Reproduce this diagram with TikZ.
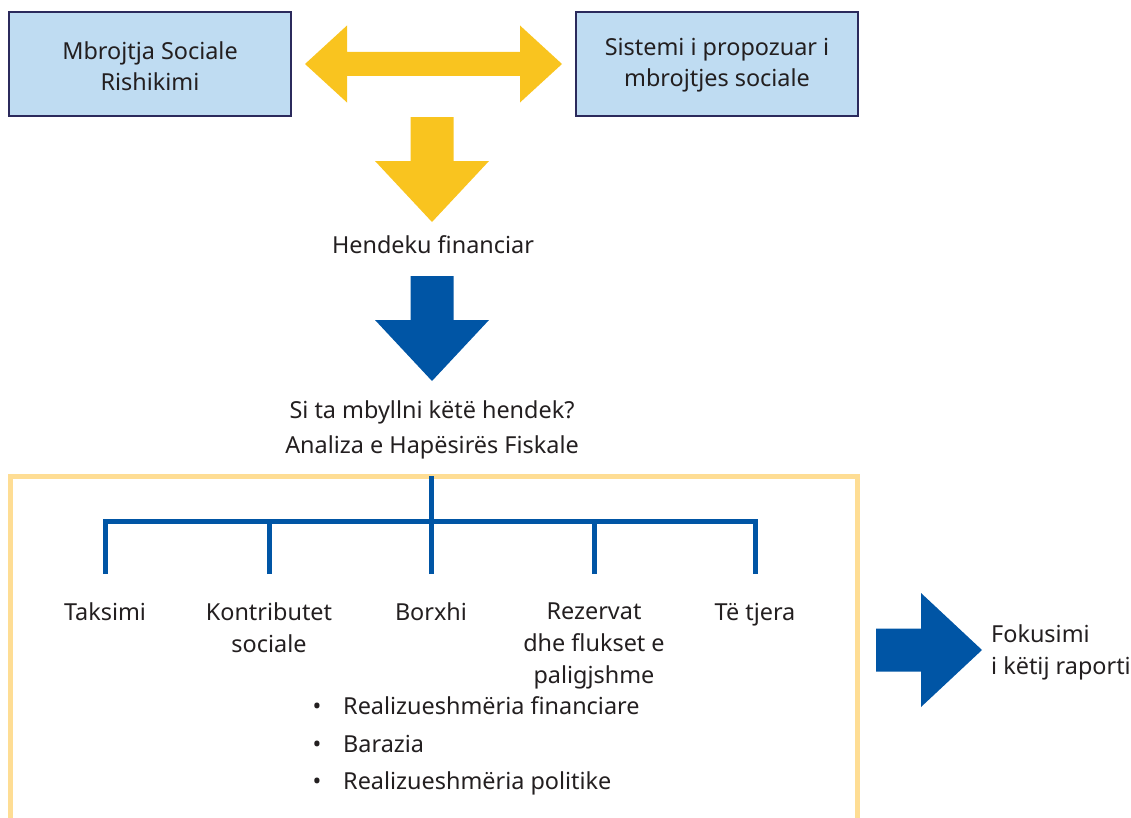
\documentclass[tikz,border=0pt]{standalone}
\usepackage{fontspec}
\setmainfont{Noto Sans}
\usetikzlibrary{calc}

\definecolor{boxfill}{HTML}{BFDCF2}
\definecolor{boxline}{HTML}{2B2A5C}
\definecolor{gold}{HTML}{F9C41F}
\definecolor{navy}{HTML}{0055A5}
\definecolor{framecol}{HTML}{FEDD94}
\definecolor{ink}{HTML}{231F20}

\begin{document}
\begin{tikzpicture}[x=1bp, y=-1bp,
    every node/.style={font=\fontsize{23.5}{32}\selectfont, inner sep=0pt, text=ink},
    box/.style={draw=boxline, line width=2.5bp, fill=boxfill, minimum width=282bp, minimum height=104bp, align=center},
    leaf/.style={anchor=base, align=center},
    tree/.style={navy, line width=5bp}]
    \useasboundingbox (0, 0) rectangle (1131, 818);
    \def\s{21.5} \def\h{57} \def\l{61} \def\L{44}
    \def\ds{12} \def\dh{38.5} \def\dl{42}
    \coordinate (dbl) at (433.5, 64);
    \coordinate (gap) at (432, 117);
    \coordinate (close) at (432, 276);
    \coordinate (focus) at (876, 650);
    \coordinate (root) at (431, 476);
    \coordinate (hub) at (431, 521);

    % top boxes
    \node[box] (review) at (150, 64) {};
    \node[box] (proposed) at (717, 64) {};
    \node[anchor=base, align=center] (reviewtxt) at (150, 91) {Mbrojtja Sociale\\Rishikimi};
    \node[anchor=base, align=center] (proposedtxt) at (717, 87) {Sistemi i propozuar i\\mbrojtjes sociale};

    % yellow arrows
    \fill[gold] ($ (dbl) + (-128.5, 0) $) -- ++(\dl, -\dh) -- ++(0, \dh - \ds) -- ++(173, 0) -- ++(0, \ds - \dh)
        -- ++(\dl, \dh) -- ++(-\dl, \dh) -- ++(0, \ds - \dh) -- ++(-173, 0) -- ++(0, \dh - \ds) -- cycle;
    \fill[gold] ($ (gap) + (-\s, 0) $) -- ++(0, \L) -- ++(\s - \h, 0) -- ($ (gap) + (0, \L + \l) $)
        -- ++(\h, -\l) -- ++(\s - \h, 0) -- ++(0, -\L) -- cycle;
    \node[anchor=base] (fingap) at (433, 253) {Hendeku financiar};

    % blue arrow
    \fill[navy] ($ (close) + (-\s, 0) $) -- ++(0, \L) -- ++(\s - \h, 0) -- ($ (close) + (0, \L + \l) $)
        -- ++(\h, -\l) -- ++(\s - \h, 0) -- ++(0, -\L) -- cycle;
    \node[anchor=base] (question) at (432, 418) {Si ta mbyllni këtë hendek?};
    \node[anchor=base] (analysis) at (432, 453) {Analiza e Hapësirës Fiskale};

    % frame and tree
    \draw[framecol, line width=5bp] (10, 818) -- (10, 476) -- (857, 476) -- (857, 818);
    \node[leaf] (tax) at (105, 620) {Taksimi};
    \node[leaf] (contrib) at (269, 652) {Kontributet\\sociale};
    \node[leaf] (debt) at (431, 620) {Borxhi};
    \node[leaf] (reserve) at (594, 683.5) {Rezervat\\dhe flukset e\\paligjshme};
    \node[leaf] (other) at (755, 620) {Të tjera};
    \foreach \n in {tax, contrib, debt, reserve, other}
        \coordinate (d-\n) at ($ (\n.base |- tax.base) + (0, -46) $);
    \draw[tree] (root) -- (hub);
    \foreach \n in {tax, contrib, debt, reserve, other}
        \draw[tree] (d-\n) |- (hub);

    % criteria
    \foreach \t [count=\i] in {Realizueshmëria financiare, Barazia, Realizueshmëria politike} {
        \node[anchor=base] (dot\i) at (317, 677 + 37.5 * \i) {•};
        \node[anchor=base west] (crit\i) at (343, 677 + 37.5 * \i) {\t};
    }

    % focus arrow
    \fill[navy] ($ (focus) + (0, -\s) $) -- ++(\L + 1, 0) -- ++(0, \s - \h) -- ($ (focus) + (\L + 1 + \l, 0) $)
        -- ++(-\l, \h) -- ++(0, \s - \h) -- ++(-\L - 1, 0) -- cycle;
    \node[anchor=base west, align=left] (report) at (991, 674) {Fokusimi\\i këtij raporti};
\end{tikzpicture}
\end{document}
